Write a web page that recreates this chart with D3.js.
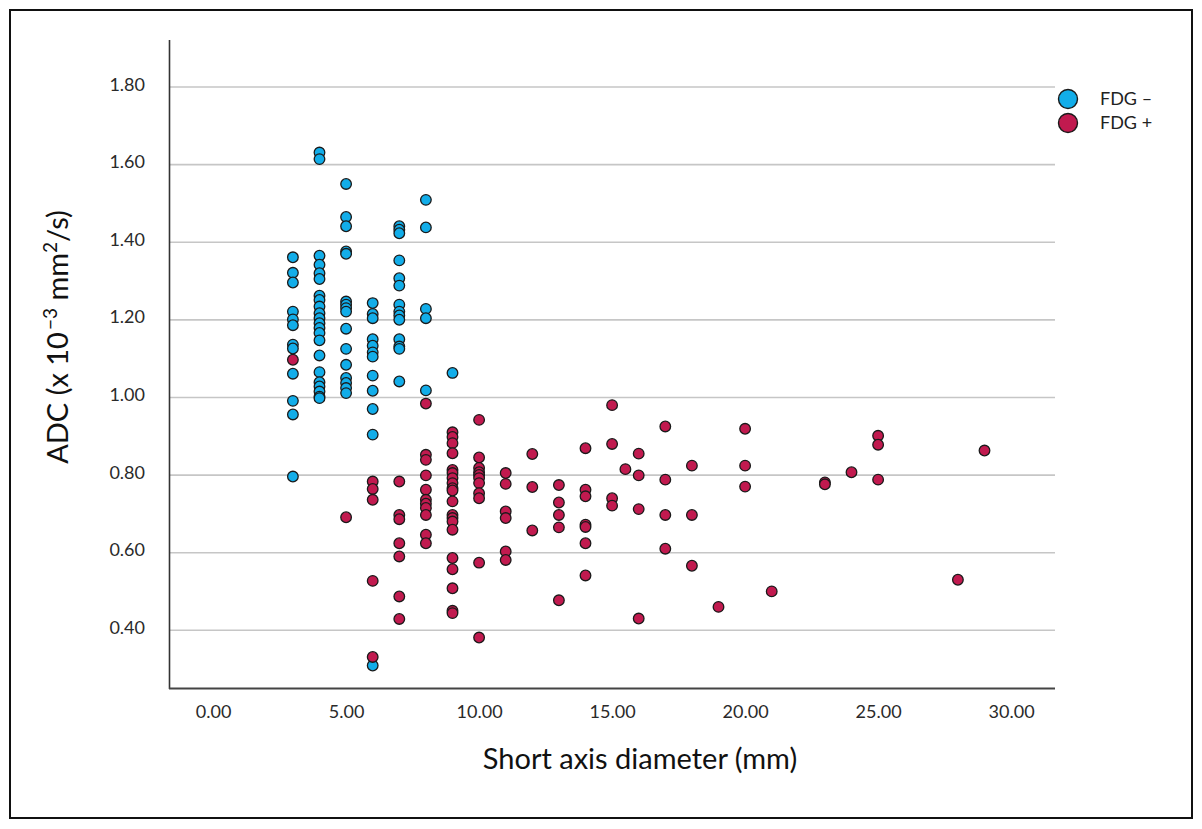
<!DOCTYPE html>
<html>
<head>
<meta charset="utf-8">
<script src="https://cdn.jsdelivr.net/npm/d3@7"></script>
<style>
  body { margin: 0; background: #fff; }
  text { font-family: Lato, 'Open Sans', sans-serif; }
</style>
</head>
<body>
<div id="chart"></div>
<script>
const xTicks = [0, 5, 10, 15, 20, 25, 30];
const yTicks = [0.4, 0.6, 0.8, 1.0, 1.2, 1.4, 1.6, 1.8];
const seriesNames = ['FDG \u2013', 'FDG +'];

// [short axis diameter (mm), ADC]
const fdgNeg = [
  [3, 1.36], [3, 1.32], [3, 1.295], [3, 1.22], [3, 1.20], [3, 1.185], [3, 1.135], [3, 1.125],
  [3, 1.06], [3, 0.99], [3, 0.955], [3, 0.795],
  [4, 1.63], [4, 1.613], [4, 1.364], [4, 1.341], [4, 1.319], [4, 1.304], [4, 1.261], [4, 1.25],
  [4, 1.233], [4, 1.216], [4, 1.203], [4, 1.19], [4, 1.178], [4, 1.165], [4, 1.146], [4, 1.107],
  [4, 1.064], [4, 1.038], [4, 1.027], [4, 1.014], [4, 1.001], [4, 0.997],
  [5, 1.549], [5, 1.464], [5, 1.44], [5, 1.375], [5, 1.369], [5, 1.246], [5, 1.238], [5, 1.229],
  [5, 1.22], [5, 1.176], [5, 1.124], [5, 1.083], [5, 1.049], [5, 1.036], [5, 1.023], [5, 1.01],
  [6, 1.242], [6, 1.214], [6, 1.203], [6, 1.149], [6, 1.132], [6, 1.115], [6, 1.104], [6, 1.055],
  [6, 1.016], [6, 0.969], [6, 0.903], [6, 0.308],
  [7, 1.44], [7, 1.431], [7, 1.422], [7, 1.352], [7, 1.306], [7, 1.287], [7, 1.238], [7, 1.22],
  [7, 1.21], [7, 1.199], [7, 1.149], [7, 1.13], [7, 1.124], [7, 1.04],
  [8, 1.508], [8, 1.437], [8, 1.227], [8, 1.203], [8, 1.017],
  [9, 1.062]
];

const fdgPos = [
  [3, 1.096],
  [5, 0.69],
  [6, 0.782], [6, 0.763], [6, 0.735], [6, 0.526], [6, 0.33],
  [7, 0.782], [7, 0.696], [7, 0.685], [7, 0.623], [7, 0.589], [7, 0.486], [7, 0.428],
  [8, 0.983], [8, 0.851], [8, 0.838], [8, 0.798], [8, 0.761], [8, 0.735], [8, 0.725], [8, 0.714],
  [8, 0.696], [8, 0.645], [8, 0.623],
  [9, 0.909], [9, 0.897], [9, 0.881], [9, 0.855], [9, 0.812], [9, 0.804], [9, 0.791], [9, 0.778],
  [9, 0.765], [9, 0.759], [9, 0.731], [9, 0.696], [9, 0.688], [9, 0.679], [9, 0.658], [9, 0.585],
  [9, 0.556], [9, 0.507], [9, 0.449], [9, 0.443],
  [10, 0.941], [10, 0.844], [10, 0.817], [10, 0.806], [10, 0.799], [10, 0.791], [10, 0.778],
  [10, 0.752], [10, 0.739], [10, 0.573], [10, 0.38],
  [11, 0.804], [11, 0.776], [11, 0.705], [11, 0.688], [11, 0.602], [11, 0.58],
  [12, 0.853], [12, 0.768], [12, 0.656],
  [13, 0.773], [13, 0.728], [13, 0.696], [13, 0.664], [13, 0.476],
  [14, 0.868], [14, 0.761], [14, 0.744], [14, 0.671], [14, 0.665], [14, 0.623], [14, 0.54],
  [15, 0.979], [15, 0.879], [15, 0.739], [15, 0.72],
  [15.5, 0.814],
  [16, 0.854], [16, 0.798], [16, 0.711], [16, 0.429],
  [17, 0.924], [17, 0.787], [17, 0.696], [17, 0.609],
  [18, 0.823], [18, 0.696], [18, 0.565],
  [19, 0.459],
  [20, 0.918], [20, 0.823], [20, 0.769],
  [21, 0.499],
  [23, 0.78], [23, 0.775],
  [24, 0.806],
  [25, 0.9], [25, 0.877], [25, 0.787],
  [28, 0.529],
  [29, 0.862]
];

const colors = ['#12ade9', '#c11a4f'];

const W = 1202, H = 829;
const plot = { left: 170, right: 1055, top: 40, bottom: 688 };

const svg = d3.select('#chart').append('svg')
  .attr('width', W).attr('height', H)
  .style('display', 'block');

// outer frame
svg.append('rect')
  .attr('x', 10).attr('y', 10)
  .attr('width', 1182).attr('height', 808)
  .attr('fill', '#fff').attr('stroke', '#111').attr('stroke-width', 2);

const x = d3.scaleLinear().domain([-1.62, 31.65]).range([plot.left, plot.right]);
const y = d3.scaleLinear().domain([0.25, 1.92]).range([plot.bottom, plot.top]);

// gridlines
const grid = svg.append('g')
  .attr('transform', `translate(${plot.left},0)`)
  .call(d3.axisLeft(y).tickValues(yTicks).tickSize(-(plot.right - plot.left)).tickFormat(''));
grid.select('.domain').remove();
grid.selectAll('line').attr('stroke', '#c6c6c6').attr('stroke-width', 1.6);

// y tick labels
const yAxisG = svg.append('g')
  .attr('transform', `translate(${plot.left},0)`)
  .call(d3.axisLeft(y).tickValues(yTicks).tickSize(0).tickPadding(25).tickFormat(d3.format('.2f')));
yAxisG.select('.domain').remove();
yAxisG.selectAll('text')
  .attr('font-size', 18).attr('fill', '#2a2a2a')
  .attr('dy', '0.2em');

// x tick labels
const xAxisG = svg.append('g')
  .attr('transform', `translate(0,${plot.bottom})`)
  .call(d3.axisBottom(x).tickValues(xTicks).tickSize(0).tickPadding(17).tickFormat(d3.format('.2f')));
xAxisG.select('.domain').remove();
xAxisG.selectAll('text').attr('font-size', 18).attr('fill', '#2a2a2a');

// axis lines
svg.append('line')
  .attr('x1', plot.left - 0.5).attr('x2', plot.left - 0.5)
  .attr('y1', plot.top).attr('y2', plot.bottom + 1)
  .attr('stroke', '#333').attr('stroke-width', 1.6);
svg.append('line')
  .attr('x1', plot.left - 1).attr('x2', plot.right)
  .attr('y1', plot.bottom + 0.5).attr('y2', plot.bottom + 0.5)
  .attr('stroke', '#444').attr('stroke-width', 2);

// points
const series = [fdgNeg, fdgPos];
series.forEach((pts, i) => {
  svg.append('g').selectAll('circle')
    .data(pts)
    .enter()
    .append('circle')
    .attr('cx', d => x(d[0]))
    .attr('cy', d => y(d[1]))
    .attr('r', 5.3)
    .attr('fill', colors[i])
    .attr('stroke', '#1a1a1a')
    .attr('stroke-width', 1.3);
});

// axis titles
svg.append('text')
  .attr('x', 640).attr('y', 769)
  .attr('text-anchor', 'middle')
  .attr('font-size', 29).attr('fill', '#111')
  .text('Short axis diameter (mm)');

const yTitle = svg.append('text')
  .attr('transform', 'translate(68,337) rotate(-90)')
  .attr('text-anchor', 'middle')
  .attr('font-size', 29).attr('fill', '#111');
yTitle.append('tspan').text('ADC (x 10');
yTitle.append('tspan').attr('font-size', 19).attr('dx', 2).attr('dy', -11).text('\u22123');
yTitle.append('tspan').attr('dy', 11).text(' mm');
yTitle.append('tspan').attr('font-size', 19).attr('dy', -11).text('2');
yTitle.append('tspan').attr('dy', 11).text('/s)');

// legend
const legend = svg.append('g').attr('transform', 'translate(1068,99)');
seriesNames.forEach((name, i) => {
  const row = legend.append('g').attr('transform', `translate(0,${i * 24})`);
  row.append('circle').attr('r', 9.5)
    .attr('fill', colors[i]).attr('stroke', '#1a1a1a').attr('stroke-width', 1.4);
  row.append('text').attr('x', 32).attr('dy', '0.35em')
    .attr('font-size', 18).attr('fill', '#222')
    .text(name);
});
</script>
</body>
</html>
